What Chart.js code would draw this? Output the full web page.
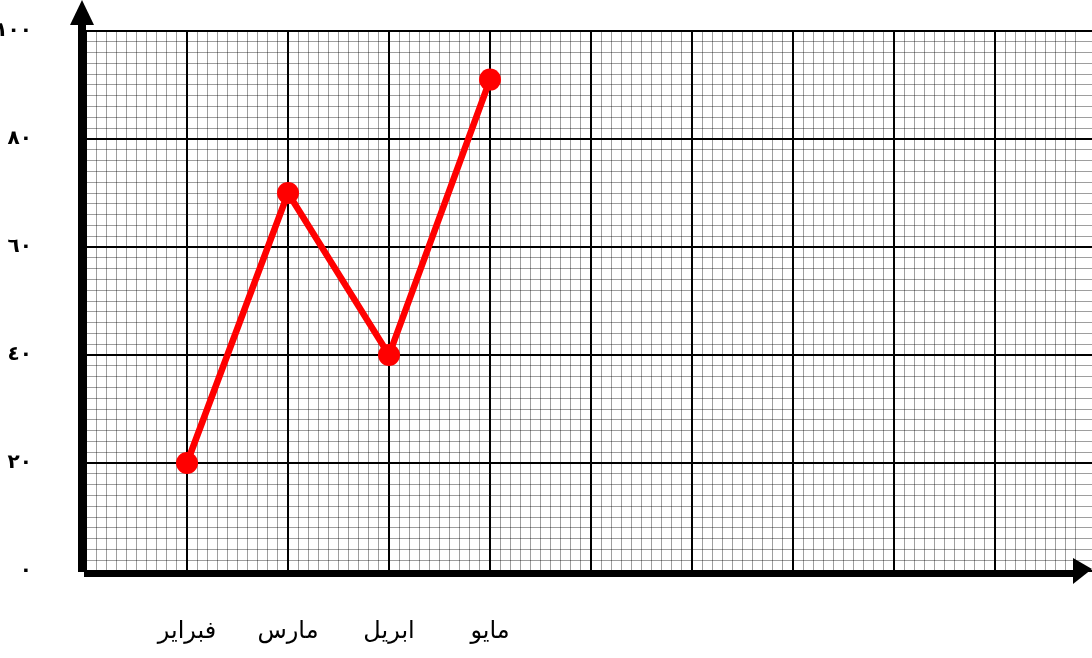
<!DOCTYPE html>
<html>
<head>
<meta charset="utf-8">
<script src="https://cdn.jsdelivr.net/npm/chart.js@4.4.1/dist/chart.umd.min.js"></script>
<style>
  html, body { margin: 0; padding: 0; background: #ffffff; }
  #wrap { width: 1092px; height: 658px; position: relative; }
</style>
</head>
<body>
<div id="wrap"><canvas id="c" width="1092" height="658"></canvas></div>
<script>
// ---- data ----
const categories = ['فبراير', 'مارس', 'ابريل', 'مايو'];
const values = [20, 70, 40, 91];
const yTickValues = [0, 20, 40, 60, 80, 100];
const yTickLabels = ['٠', '٢٠', '٤٠', '٦٠', '٨٠', '١٠٠'];

const points = categories.map((c, i) => ({ x: i + 1, y: values[i] }));

function isMajor(v, step) {
  const r = v / step;
  return Math.abs(r - Math.round(r)) < 1e-6;
}

const axesPlugin = {
  id: 'arrowAxes',
  afterDraw(chart) {
    const ctx = chart.ctx;
    const a = chart.chartArea;
    ctx.save();
    ctx.fillStyle = '#000';
    // vertical axis shaft + arrow
    ctx.fillRect(a.left - 8, 22, 8, a.bottom - 22 + 1);
    ctx.beginPath();
    ctx.moveTo(a.left - 16, 25);
    ctx.lineTo(a.left + 8, 25);
    ctx.lineTo(a.left - 4, 0);
    ctx.closePath();
    ctx.fill();
    // horizontal axis shaft + arrow
    ctx.fillRect(a.left - 2, a.bottom - 1, 1075 - (a.left - 2), 7);
    ctx.beginPath();
    ctx.moveTo(1073, a.bottom - 13);
    ctx.lineTo(1073, a.bottom + 13);
    ctx.lineTo(1092, a.bottom - 2);
    ctx.closePath();
    ctx.fill();
    ctx.restore();
  }
};

function noPad(scale) {
  scale.paddingLeft = 0;
  scale.paddingRight = 0;
  scale.paddingTop = 0;
  scale.paddingBottom = 0;
}

new Chart(document.getElementById('c'), {
  type: 'line',
  data: {
    datasets: [{
      data: points,
      borderColor: '#ff0000',
      backgroundColor: '#ff0000',
      borderWidth: 6.5,
      pointRadius: 11,
      pointHoverRadius: 11,
      pointBorderWidth: 0,
      pointBackgroundColor: '#ff0000',
      tension: 0,
      clip: false
    }]
  },
  options: {
    responsive: false,
    devicePixelRatio: 1,
    animation: false,
    layout: { autoPadding: false, padding: { top: 31, right: 0, left: 0, bottom: 0 } },
    plugins: { legend: { display: false }, tooltip: { enabled: false } },
    scales: {
      x: {
        type: 'linear',
        min: 0,
        max: 9.96,
        border: { display: false },
        afterFit(scale) { scale.height = 87; noPad(scale); },
        grid: {
          drawTicks: false,
          color: (ctx) => isMajor(ctx.tick.value, 1) ? '#000000' : 'rgba(0,0,0,0.38)',
          lineWidth: (ctx) => isMajor(ctx.tick.value, 1) ? 2 : 1
        },
        ticks: {
          stepSize: 0.1,
          maxTicksLimit: 1000,
          autoSkip: false,
          maxRotation: 0,
          padding: 46,
          color: '#000',
          font: { family: 'Liberation Sans, DejaVu Sans', size: 24 },
          callback: (v) => {
            const r = Math.round(v);
            if (Math.abs(v - r) < 1e-6 && r >= 1 && r <= categories.length) return categories[r - 1];
            return '';
          }
        }
      },
      y: {
        type: 'linear',
        min: 0,
        max: 100,
        border: { display: false },
        afterFit(scale) { scale.width = 86; noPad(scale); },
        grid: {
          drawTicks: false,
          color: (ctx) => isMajor(ctx.tick.value, 20) ? '#000000' : 'rgba(0,0,0,0.38)',
          lineWidth: (ctx) => isMajor(ctx.tick.value, 20) ? 2 : 1
        },
        ticks: {
          stepSize: 2,
          maxTicksLimit: 1000,
          autoSkip: false,
          padding: 54,
          color: '#000',
          font: { family: 'DejaVu Sans', size: 20, weight: 'bold' },
          callback: (v) => {
            const idx = yTickValues.indexOf(Math.round(v));
            if (idx >= 0 && Math.abs(v - Math.round(v)) < 1e-6) return yTickLabels[idx];
            return '';
          }
        }
      }
    }
  },
  plugins: [axesPlugin]
});
</script>
</body>
</html>
